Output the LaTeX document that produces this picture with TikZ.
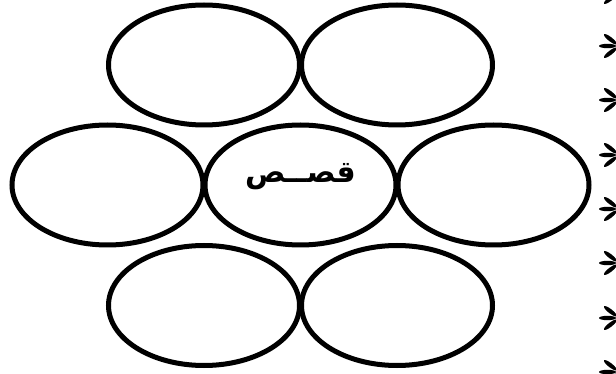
\documentclass[tikz,border=0pt]{standalone}
\usepackage{fontspec}
\TeXXeTstate=1
\newfontfamily\arabicfont[Script=Arabic]{DejaVu Sans}
\usetikzlibrary{shapes.geometric}
\begin{document}
\begin{tikzpicture}[x=1pt,y=-1pt,
  bubble/.style={ellipse, draw=black, line width=5pt, minimum width=191pt, minimum height=120pt, inner sep=0pt},
  title/.style={font=\arabicfont\bfseries\fontsize{30}{36}\selectfont, inner sep=0pt},
  petal/.style={fill=black}]
\useasboundingbox[fill=white] (0,0) rectangle (616,374);
% top row
\node[bubble] (tl) at (204,65) {};
\node[bubble] (tr) at (397,65) {};
% middle row
\node[bubble] (ml) at (107.5,185) {};
\node[bubble] (mc) at (300.5,185) {};
\node[bubble] (mr) at (493.5,185) {};
% bottom row
\node[bubble] (bl) at (204,305.5) {};
\node[bubble] (br) at (397,305.5) {};
% centre text
\node[title] (txt) at ([yshift=8pt]mc.center) {\beginR قصــص\endR};
% bullets at the right edge
\foreach \c in {-8,46,100,155,209,263,318,372} {
  \begin{scope}[shift={(619,\c)}]
    \fill[petal] (-11.5,0) ellipse [x radius=8.5, y radius=2.2];
    \fill[petal, rotate=142] (11,0) ellipse [x radius=8, y radius=2.1];
    \fill[petal, rotate=218] (11,0) ellipse [x radius=8, y radius=2.1];
  \end{scope}
}
\end{tikzpicture}
\end{document}
